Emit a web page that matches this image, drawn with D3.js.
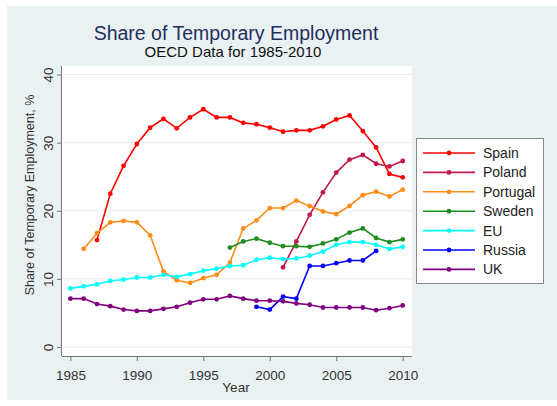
<!DOCTYPE html>
<html>
<head>
<meta charset="utf-8">
<script src="https://cdn.jsdelivr.net/npm/d3@7"></script>
<style>
    html, body { margin: 0; padding: 0; background: #ffffff; }
    #chart { width: 557px; height: 406px; }
    text { font-family: "Liberation Sans", Arial, sans-serif; }
</style>
</head>
<body>
<div id="chart"></div>
<script>
//Datos
const years = [1985,1986,1987,1988,1989,1990,1991,1992,1993,1994,1995,1996,1997,1998,1999,2000,2001,2002,2003,2004,2005,2006,2007,2008,2009,2010];
const spain = [null,null,15.7,22.5,26.6,29.8,32.2,33.5,32.1,33.7,34.9,33.7,33.7,32.9,32.7,32.2,31.6,31.8,31.8,32.4,33.4,34.0,31.7,29.3,25.4,24.9];
const poland = [null,null,null,null,null,null,null,null,null,null,null,null,null,null,null,null,11.7,15.5,19.4,22.7,25.6,27.5,28.2,26.9,26.5,27.3];
const portugal = [null,14.4,16.7,18.3,18.5,18.3,16.4,11.1,9.8,9.4,10.1,10.6,12.4,17.4,18.6,20.4,20.4,21.5,20.7,19.9,19.5,20.7,22.3,22.8,22.1,23.1];
const sweden = [null,null,null,null,null,null,null,null,null,null,null,null,14.6,15.5,15.9,15.3,14.8,14.8,14.7,15.2,15.8,16.8,17.4,16.0,15.4,15.8];
const eu = [8.6,8.9,9.2,9.7,9.9,10.2,10.2,10.6,10.3,10.7,11.2,11.5,11.9,12.0,12.8,13.1,12.9,13.0,13.4,14.0,15.0,15.4,15.4,15.0,14.4,14.7];
const russia = [null,null,null,null,null,null,null,null,null,null,null,null,null,null,5.9,5.5,7.4,7.1,11.9,11.9,12.3,12.7,12.7,14.1,null,null];
const uk = [7.1,7.1,6.3,6.0,5.5,5.3,5.3,5.6,5.9,6.5,7.0,7.0,7.5,7.1,6.8,6.8,6.7,6.4,6.2,5.8,5.8,5.8,5.8,5.4,5.7,6.1];

const seriesNames = ['Spain','Poland','Portugal','Sweden','EU','Russia','UK'];
const seriesValues = [spain, poland, portugal, sweden, eu, russia, uk];
const yTicks = [0,10,20,30,40];
const xTicks = [1985,1990,1995,2000,2005,2010];

//Colores fijos
const COLORS = ['#ff0000', '#c01848', '#ff8c1a', '#1e8c1e', '#00ffff', '#0000ff', '#800080'];
const COLOR_BG = '#eaf1f3', COLOR_GRID = '#e6eef0', COLOR_AXIS = '#777777';

let width = 557, height = 406;

let svg = d3.select('#chart')
    .append('svg')
        .attr('width', width)
        .attr('height', height);

//Fondo general y región del gráfico
svg.append('rect')
    .attr('x', 7).attr('y', 6)
    .attr('width', width - 7).attr('height', 394)
    .attr('fill', COLOR_BG);

let plot = {left: 62, right: 412, top: 66, bottom: 356};

svg.append('rect')
    .attr('x', plot.left).attr('y', plot.top)
    .attr('width', plot.right - plot.left).attr('height', plot.bottom - plot.top)
    .attr('fill', '#ffffff');

//Escalas
let x = d3.scaleLinear()
    .domain([1985, 2010])
    .range([70.4, 402.7]);

let y = d3.scaleLinear()
    .domain([0, 40])
    .range([347, 74.5]);

//Rejilla
svg.append('g')
    .selectAll('line')
    .data(yTicks)
    .enter()
    .append('line')
    .attr('x1', plot.left + 1).attr('x2', plot.right)
    .attr('y1', function(d) { return y(d); })
    .attr('y2', function(d) { return y(d); })
    .attr('stroke', COLOR_GRID)
    .attr('stroke-width', 1);

//Ejes
let xAxis = svg.append('g')
    .attr('transform', 'translate(0,' + plot.bottom + ')')
    .call(d3.axisBottom(x).tickValues(xTicks).tickFormat(d3.format('d')).tickSize(5).tickSizeOuter(0));

xAxis.select('.domain').attr('d', 'M' + plot.left + ',0.5H' + plot.right);
xAxis.selectAll('line').attr('stroke', COLOR_AXIS);
xAxis.select('.domain').attr('stroke', COLOR_AXIS);
xAxis.selectAll('text')
    .attr('dy', 0).attr('y', 24)
    .style('font-size', '13.5px')
    .attr('fill', '#333333');

let yAxis = svg.append('g')
    .attr('transform', 'translate(' + plot.left + ',0)')
    .call(d3.axisLeft(y).tickValues(yTicks).tickSize(5).tickSizeOuter(0));

yAxis.select('.domain').attr('d', 'M-0.5,' + plot.top + 'V' + plot.bottom);
yAxis.selectAll('line').attr('stroke', COLOR_AXIS);
yAxis.select('.domain').attr('stroke', COLOR_AXIS);
yAxis.selectAll('text')
    .attr('x', 0).attr('dy', 0)
    .attr('transform', 'translate(-9,0) rotate(-90)')
    .attr('text-anchor', 'middle')
    .style('font-size', '13.5px')
    .attr('fill', '#333333');

//Títulos
svg.append('text')
    .attr('x', 236).attr('y', 40)
    .attr('text-anchor', 'middle')
    .style('font-size', '19.5px')
    .attr('fill', '#1f2f5c')
    .text('Share of Temporary Employment');

svg.append('text')
    .attr('x', 233).attr('y', 57)
    .attr('text-anchor', 'middle')
    .style('font-size', '15px')
    .attr('fill', '#111111')
    .text('OECD Data for 1985-2010');

svg.append('text')
    .attr('x', 236).attr('y', 392)
    .attr('text-anchor', 'middle')
    .style('font-size', '13.5px')
    .attr('fill', '#333333')
    .text('Year');

svg.append('text')
    .attr('transform', 'translate(34,195) rotate(-90)')
    .attr('text-anchor', 'middle')
    .style('font-size', '12.5px')
    .attr('fill', '#333333')
    .text('Share of Temporary Employment, %');

//Líneas
let line = d3.line()
    .defined(function(d) { return d.v != null; })
    .x(function(d) { return x(d.year); })
    .y(function(d) { return y(d.v); });

seriesValues.forEach(function(values, i) {
    let points = years.map(function(yr, j) { return {year: yr, v: values[j]}; });
    let g = svg.append('g');

    g.append('path')
        .datum(points)
        .attr('fill', 'none')
        .attr('stroke', COLORS[i])
        .attr('stroke-width', 1.6)
        .attr('d', line);

    g.selectAll('circle')
        .data(points.filter(function(d) { return d.v != null; }))
        .enter()
        .append('circle')
        .attr('cx', function(d) { return x(d.year); })
        .attr('cy', function(d) { return y(d.v); })
        .attr('r', 2.4)
        .attr('fill', COLORS[i]);
});

//Leyenda
let legend = svg.append('g')
    .attr('transform', 'translate(416,138)');

legend.append('rect')
    .attr('x', 0.5).attr('y', 0.5)
    .attr('width', 127).attr('height', 145)
    .attr('fill', '#ffffff')
    .attr('stroke', '#888888');

let items = legend.selectAll('.item')
    .data(seriesNames)
    .enter()
    .append('g')
    .attr('transform', function(d, i) { return 'translate(0,' + (15 + i * 19.4) + ')'; });

items.append('line')
    .attr('x1', 7).attr('x2', 59)
    .attr('stroke', function(d, i) { return COLORS[i]; })
    .attr('stroke-width', 1.6);

items.append('circle')
    .attr('cx', 33).attr('r', 2.4)
    .attr('fill', function(d, i) { return COLORS[i]; });

items.append('text')
    .attr('x', 67).attr('y', 5)
    .style('font-size', '14px')
    .attr('fill', '#222222')
    .text(function(d) { return d; });
</script>
</body>
</html>
